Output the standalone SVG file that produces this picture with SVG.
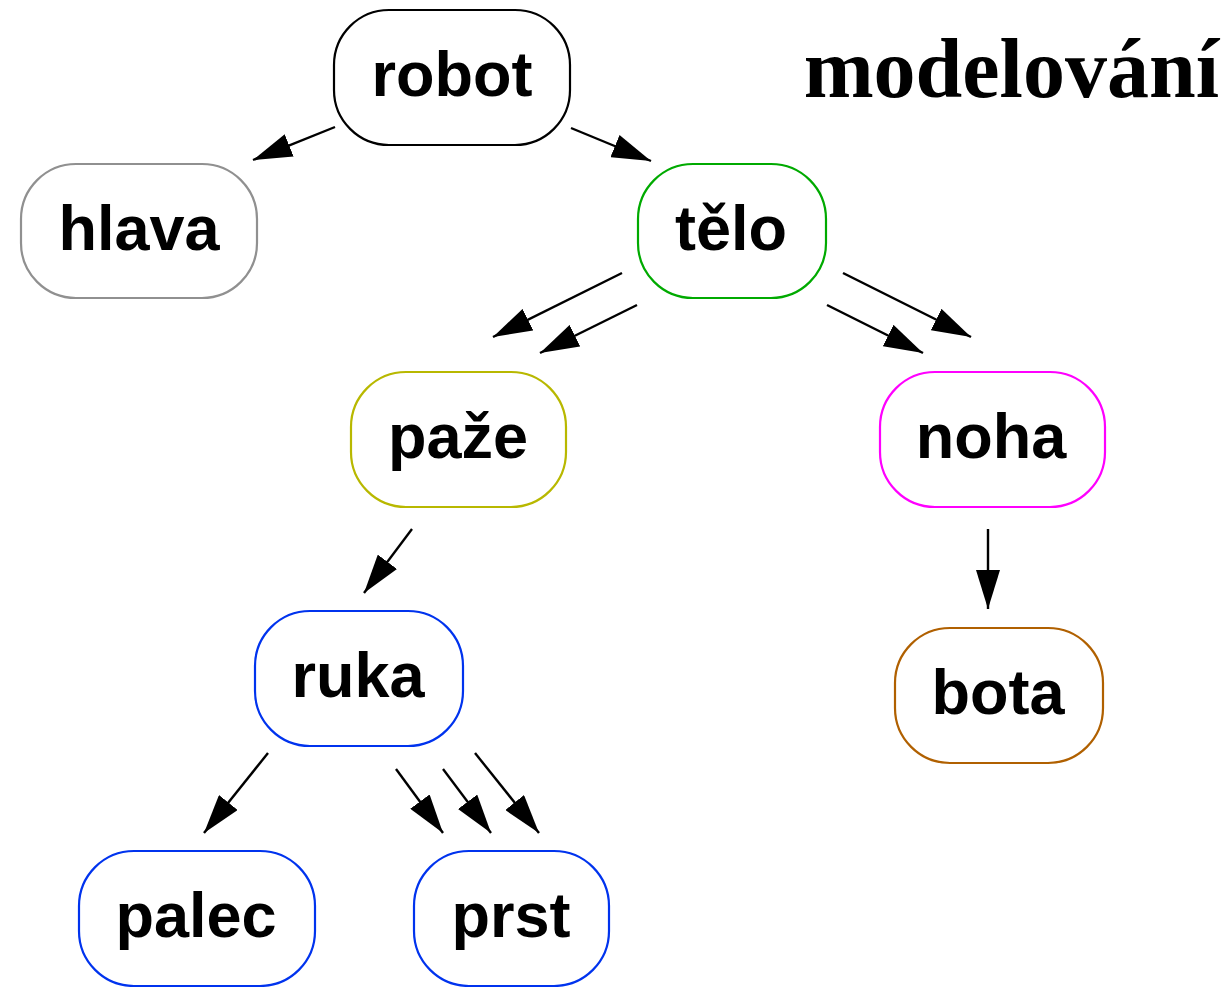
<svg xmlns="http://www.w3.org/2000/svg" width="1228" height="987" viewBox="0 0 1228 987">
<style>
.n rect{fill:#fff;stroke-width:2.2}
.n text{font-family:"Liberation Sans",Arial,sans-serif;font-weight:bold;font-size:63px;text-anchor:middle;fill:#000}
.c line{stroke:#000;stroke-width:2.4;marker-end:url(#ah)}
.t{font-family:"Liberation Serif","Times New Roman",serif;font-weight:bold;font-size:84px;text-anchor:end;fill:#000}
</style>
<defs>
<marker id="ah" viewBox="0 0 39 24" refX="39" refY="12" markerWidth="39" markerHeight="24" markerUnits="userSpaceOnUse" orient="auto">
<path d="M0,0 L39,12 L0,24 z" fill="#000"/>
</marker>
</defs>
<rect width="1228" height="987" fill="#fff"/>
<text class="t" x="1219" y="97">modelování</text>
<g class="c">
<line x1="335" y1="127" x2="253" y2="160"/>
<line x1="571" y1="128" x2="651" y2="161"/>
<line x1="622" y1="273" x2="493" y2="337"/>
<line x1="637" y1="305" x2="540" y2="353"/>
<line x1="843" y1="273" x2="971" y2="337"/>
<line x1="827" y1="305" x2="923" y2="353"/>
<line x1="412" y1="529" x2="364" y2="593"/>
<line x1="988" y1="529" x2="988" y2="609"/>
<line x1="268" y1="753" x2="204" y2="833"/>
<line x1="396" y1="769" x2="443" y2="833"/>
<line x1="443" y1="769" x2="491" y2="833"/>
<line x1="475" y1="753" x2="539" y2="833"/>
</g>
<g id="robot" class="n"><rect x="334" y="10" width="236" height="135" rx="55" ry="55" stroke="#000"/><text x="452" y="96">robot</text></g>
<g id="hlava" class="n"><rect x="21" y="164" width="236" height="134" rx="55" ry="55" stroke="#909090"/><text x="139" y="250">hlava</text></g>
<g id="telo" class="n"><rect x="638" y="164" width="188" height="134" rx="55" ry="55" stroke="#00aa00"/><text x="731" y="250">tělo</text></g>
<g id="paze" class="n"><rect x="351" y="372" width="215" height="135" rx="55" ry="55" stroke="#b8b800"/><text x="458" y="458">paže</text></g>
<g id="noha" class="n"><rect x="880" y="372" width="225" height="135" rx="55" ry="55" stroke="#ff00ff"/><text x="991" y="458">noha</text></g>
<g id="ruka" class="n"><rect x="255" y="611" width="208" height="135" rx="55" ry="55" stroke="#0033ee"/><text x="358" y="697">ruka</text></g>
<g id="bota" class="n"><rect x="895" y="628" width="208" height="135" rx="55" ry="55" stroke="#b06000"/><text x="998" y="714">bota</text></g>
<g id="palec" class="n"><rect x="79" y="851" width="236" height="135" rx="55" ry="55" stroke="#0033ee"/><text x="196" y="937">palec</text></g>
<g id="prst" class="n"><rect x="414" y="851" width="195" height="135" rx="55" ry="55" stroke="#0033ee"/><text x="511" y="937">prst</text></g>
</svg>
